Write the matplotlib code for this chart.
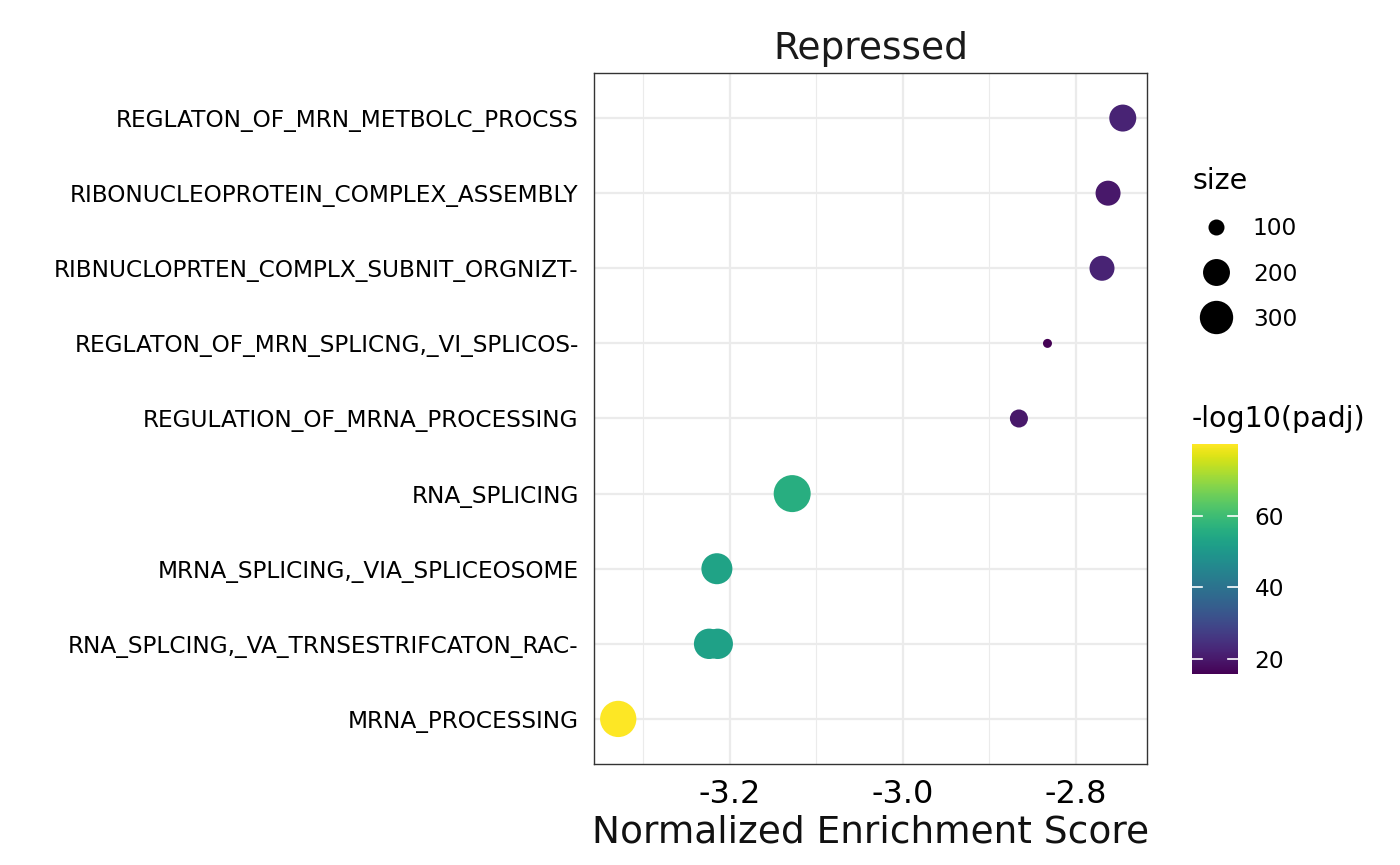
"""GSEA dot plot: repressed pathways."""
import matplotlib
matplotlib.use("Agg")
import matplotlib.pyplot as plt
from matplotlib.lines import Line2D
import numpy as np

# categories, top row first
CATEGORIES = [
    "REGLATON_OF_MRN_METBOLC_PROCSS",
    "RIBONUCLEOPROTEIN_COMPLEX_ASSEMBLY",
    "RIBNUCLOPRTEN_COMPLX_SUBNIT_ORGNIZT-",
    "REGLATON_OF_MRN_SPLICNG,_VI_SPLICOS-",
    "REGULATION_OF_MRNA_PROCESSING",
    "RNA_SPLICING",
    "MRNA_SPLICING,_VIA_SPLICEOSOME",
    "RNA_SPLCING,_VA_TRNSESTRIFCATON_RAC-",
    "MRNA_PROCESSING",
]

# one entry per point (the truncated RNA_SPLCING label holds two gene sets)
POINT_TERM = [
    "REGLATON_OF_MRN_METBOLC_PROCSS",
    "RIBONUCLEOPROTEIN_COMPLEX_ASSEMBLY",
    "RIBNUCLOPRTEN_COMPLX_SUBNIT_ORGNIZT-",
    "REGLATON_OF_MRN_SPLICNG,_VI_SPLICOS-",
    "REGULATION_OF_MRNA_PROCESSING",
    "RNA_SPLICING",
    "MRNA_SPLICING,_VIA_SPLICEOSOME",
    "RNA_SPLCING,_VA_TRNSESTRIFCATON_RAC-",
    "RNA_SPLCING,_VA_TRNSESTRIFCATON_RAC-",
    "MRNA_PROCESSING",
]
NES = [-2.746, -2.763, -2.770, -2.833, -2.866, -3.128, -3.215, -3.224, -3.214, -3.329]
SET_SIZE = [201, 176, 176, 82, 112, 370, 260, 250, 250, 355]
NEG_LOG10_PADJ = [22, 20, 22, 15.8, 20, 56, 53, 52.5, 52.5, 80.1]

SIZE_BREAKS = [100, 200, 300]
COLOR_TICKS = [20, 40, 60]

FIG_W, FIG_H, DPI = 14.0, 8.65, 100
PX = 72.0 / DPI  # points per pixel
D_MIN_PX, D_MAX_PX = 9.0, 37.0
S_LO, S_HI = min(SET_SIZE), max(SET_SIZE)
XLIM = (-3.357, -2.718)


def _diam_pt(v):
    v = np.asarray(v, dtype=float)
    frac = np.clip((v - S_LO) / (S_HI - S_LO), 0, 1)
    return (D_MIN_PX + (D_MAX_PX - D_MIN_PX) * np.sqrt(frac)) * PX


fig = plt.figure(figsize=(FIG_W, FIG_H), dpi=DPI)
ax = fig.add_axes([594 / 1400, 1 - 764 / 865, 553 / 1400, 691 / 865])

ypos = {name: len(CATEGORIES) - 1 - i for i, name in enumerate(CATEGORIES)}
y = [ypos[t] for t in POINT_TERM]
sc = ax.scatter(NES, y, s=_diam_pt(SET_SIZE) ** 2, c=NEG_LOG10_PADJ, cmap="viridis",
                vmin=min(NEG_LOG10_PADJ), vmax=max(NEG_LOG10_PADJ),
                linewidths=0, zorder=3)

ax.set_yticks(range(len(CATEGORIES)))
ax.set_yticklabels(CATEGORIES[::-1], fontsize=16.75)
ax.set_xticks([-3.2, -3.0, -2.8])
ax.set_xticklabels(["-3.2", "-3.0", "-2.8"], fontsize=23)
ax.set_xticks([-3.3, -3.1, -2.9], minor=True)
# limits after the ticks, so set_xticks cannot widen them
ax.set_xlim(*XLIM)
ax.set_ylim(-0.6, len(CATEGORIES) - 0.4)
ax.tick_params(axis="both", which="both", length=0)
ax.tick_params(axis="y", pad=11)
ax.tick_params(axis="x", pad=11)
ax.grid(True, which="major", color="#ebebeb", linewidth=1.6, zorder=0)
ax.grid(True, which="minor", axis="x", color="#ebebeb", linewidth=0.8, zorder=0)
ax.set_axisbelow(True)
for sp in ax.spines.values():
    sp.set_color("#333333")
    sp.set_linewidth(1.0)
ax.set_xlabel("Normalized Enrichment Score", fontsize=27, labelpad=3, color="#111111")
ax.set_title("Repressed", fontsize=27, pad=10, color="#1a1a1a")

# size legend
handles = [Line2D([], [], linestyle="none", marker="o", color="black",
                  markersize=float(_diam_pt(b)), markeredgewidth=0) for b in SIZE_BREAKS]
leg = fig.legend(handles, [str(b) for b in SIZE_BREAKS], title="size",
                 loc="upper left", bbox_to_anchor=(1183 / 1400, 1 - 158 / 865),
                 frameon=False, fontsize=16.75, title_fontsize=20.5,
                 labelspacing=0.95, handletextpad=0.6, borderaxespad=0)
leg._legend_box.align = "left"

# colour bar
cax = fig.add_axes([1192 / 1400, 1 - 674 / 865, 46 / 1400, 230 / 865])
cb = fig.colorbar(sc, cax=cax, ticks=COLOR_TICKS)
cb.outline.set_visible(False)
cax.tick_params(labelsize=16.75, length=0, pad=12)
for t in COLOR_TICKS:
    cax.plot([0, 0.22], [t, t], color="white", linewidth=1.2, transform=cax.get_yaxis_transform())
    cax.plot([0.78, 1], [t, t], color="white", linewidth=1.2, transform=cax.get_yaxis_transform())
cax.set_title("-log10(padj)", fontsize=20.5, loc="left", pad=12)

fig.savefig("out.png", dpi=DPI)
